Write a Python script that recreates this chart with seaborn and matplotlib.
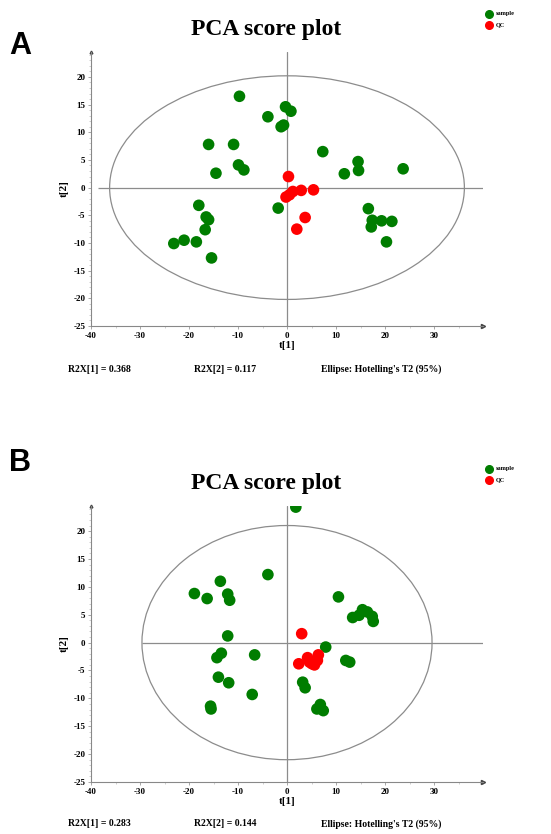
import numpy as np
import pandas as pd
import matplotlib.pyplot as plt
import seaborn as sns
from matplotlib.patches import Ellipse
from matplotlib.ticker import MultipleLocator

# Dane - panel A
a_sample_t1 = [-9.7, -0.3, 0.8, -3.9, -1.2, -0.7, -16.0, -10.9, -9.9, -8.8, -14.5,
               7.3, 14.5, 14.6, 11.7, 23.7, -18.0, -16.5, -16.0, -16.7, -23.1,
               -21.0, -18.5, -15.4, -1.8, 16.6, 17.4, 17.2, 19.3, 21.4, 20.3]
a_sample_t2 = [16.5, 14.6, 13.8, 12.8, 11.0, 11.3, 7.8, 7.8, 4.1, 3.2, 2.6,
               6.5, 4.7, 3.1, 2.5, 3.4, -3.2, -5.3, -5.8, -7.6, -10.1,
               -9.5, -9.8, -12.7, -3.7, -3.8, -5.9, -7.1, -6.0, -6.1, -9.8]
a_qc_t1 = [0.3, 1.2, 2.9, 5.4, -0.2, 0.5, 3.7, 2.0]
a_qc_t2 = [2.0, -0.7, -0.5, -0.4, -1.7, -1.3, -5.4, -7.5]

# Dane - panel B
b_sample_t1 = [1.8, -3.9, -13.6, -18.9, -16.3, -12.1, -11.7, 10.5, 13.4, 15.4,
               16.4, 17.4, 17.6, 14.7, -12.1, 7.9, -14.3, -13.4, -6.6, 12.0,
               12.8, -14.0, -11.9, -7.1, -15.6, -15.5, 3.2, 3.7, 6.8, 6.1, 7.4]
b_sample_t2 = [24.3, 12.2, 11.0, 8.8, 7.9, 8.7, 7.6, 8.2, 4.5, 5.9,
               5.5, 4.7, 3.8, 4.9, 1.2, -0.8, -2.7, -1.9, -2.2, -3.2,
               -3.5, -6.2, -7.2, -9.3, -11.4, -11.9, -7.1, -8.1, -11.1, -11.9, -12.2]
b_qc_t1 = [3.0, 2.4, 4.2, 5.1, 6.2, 6.4, 5.6, 4.6]
b_qc_t2 = [1.6, -3.8, -2.7, -3.8, -3.2, -2.2, -4.0, -3.5]

panels = [
    dict(letter='A', s1=a_sample_t1, s2=a_sample_t2, q1=a_qc_t1, q2=a_qc_t2,
         r2x=('0.368', '0.117'), ell=(36.2, 20.2), hstart=-38.5),
    dict(letter='B', s1=b_sample_t1, s2=b_sample_t2, q1=b_qc_t1, q2=b_qc_t2,
         r2x=('0.283', '0.144'), ell=(29.6, 21.0), hstart=-29.6),
]

sns.set_style("white")
plt.rcParams['font.family'] = ['Liberation Serif', 'DejaVu Serif']
plt.rcParams['font.weight'] = 'bold'
plt.rcParams['axes.unicode_minus'] = False
plt.rcParams['text.color'] = 'black'
plt.rcParams['axes.labelcolor'] = 'black'
plt.rcParams['xtick.labelcolor'] = 'black'
plt.rcParams['ytick.labelcolor'] = 'black'

fig = plt.figure(figsize=(5.51, 8.34), dpi=100)
H = 834.0
W = 551.0
# pozycje osi (piksele): lewa, prawa, gora, dol
ax_boxes = [(91, 483, 52, 326), (91, 483, 506, 782)]
offsets = [0, 455]
letter_y = [46, 463]
pal = {'sample': '#007d00', 'QC': '#ff0000'}

for p, box, off, ly in zip(panels, ax_boxes, offsets, letter_y):
    l, r, t, b = box
    ax = fig.add_axes([l / W, 1 - b / H, (r - l) / W, (b - t) / H])
    df = pd.DataFrame({
        't1': list(p['s1']) + list(p['q1']),
        't2': list(p['s2']) + list(p['q2']),
        'grupa': ['sample'] * len(p['s1']) + ['QC'] * len(p['q1']),
    })
    ax.add_patch(Ellipse((0, 0), 2 * p['ell'][0], 2 * p['ell'][1], fill=False,
                         edgecolor='#8c8c8c', lw=0.9, zorder=1))
    ax.axvline(0, color='#8c8c8c', lw=0.9, zorder=1)
    ax.hlines(0, p['hstart'], 40, color='#8c8c8c', lw=0.9, zorder=1)
    sns.scatterplot(data=df, x='t1', y='t2', hue='grupa', palette=pal, s=70,
                    edgecolor='none', legend=False, ax=ax, zorder=3)
    ax.set_xlim(-40, 40)
    ax.set_ylim(-25, 24.5)
    ax.set_xticks(np.arange(-40, 31, 10))
    ax.set_yticks(np.arange(-25, 21, 5))
    ax.xaxis.set_minor_locator(MultipleLocator(5))
    ax.yaxis.set_minor_locator(MultipleLocator(1))
    ax.tick_params(axis='both', which='major', direction='out', length=2.5,
                   width=0.6, color='#999999', labelsize=6.5, pad=1.5, left=True, bottom=True)
    ax.tick_params(axis='both', which='minor', direction='out', length=1.5,
                   width=0.5, color='#bbbbbb', left=True, bottom=True)
    for lab in ax.get_xticklabels() + ax.get_yticklabels():
        lab.set_fontweight('bold')
    for side in ['top', 'right']:
        ax.spines[side].set_visible(False)
    for side in ['left', 'bottom']:
        ax.spines[side].set_color('#888888')
        ax.spines[side].set_linewidth(0.8)
    ax.plot(1, 0, marker='>', color='#444444', ms=3, transform=ax.transAxes, clip_on=False)
    ax.plot(0, 1, marker='^', color='#444444', ms=2, transform=ax.transAxes, clip_on=False)
    ax.set_xlabel('t[1]', fontsize=8, fontweight='bold', labelpad=1)
    ax.set_ylabel('t[2]', fontsize=8, fontweight='bold', labelpad=3)

    # tytul, litera, legenda, podpisy
    fig.text(266 / W, 1 - (29 + off) / H, 'PCA score plot', fontsize=17,
             fontweight='bold', ha='center', va='center')
    fig.text(9 / W, 1 - ly / H, p['letter'], fontsize=22, fontweight='bold',
             family='Liberation Sans', ha='left', va='center')
    for name, yy in [('sample', 14), ('QC', 25)]:
        fig.add_artist(plt.Line2D([489 / W], [1 - (yy + off) / H], marker='o',
                                  color=pal[name], ms=5.5, lw=0))
        fig.text(496 / W, 1 - (yy + off) / H, name, fontsize=4.5, fontweight='bold',
                 ha='left', va='center')
    ty = 1 - (369 + off) / H
    fig.text(68 / W, ty, 'R2X[1] = ' + p['r2x'][0], fontsize=7, fontweight='bold', va='center')
    fig.text(194 / W, ty, 'R2X[2] = ' + p['r2x'][1], fontsize=7, fontweight='bold', va='center')
    fig.text(321 / W, ty, "Ellipse: Hotelling's T2 (95%)", fontsize=7, fontweight='bold',
             va='center')

fig.savefig('out.png', dpi=100)
